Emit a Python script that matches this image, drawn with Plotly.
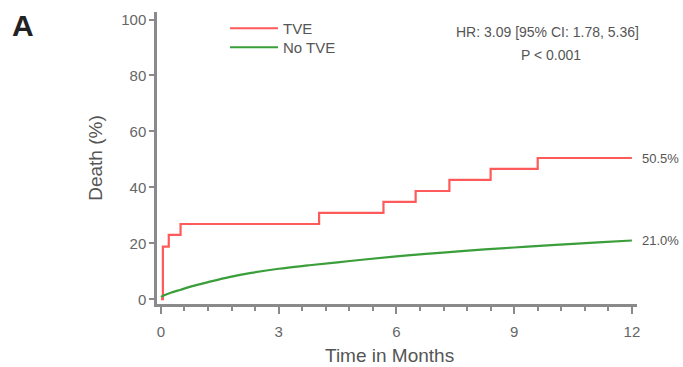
import plotly.graph_objects as go

# Data
red_name = "TVE"
red_t = [0, 0.05, 0.20, 0.50, 4.03, 5.67, 6.49, 7.35, 8.40, 9.60, 12.0]
red_y = [0, 18.8, 23.0, 26.9, 30.9, 34.8, 38.7, 42.7, 46.6, 50.5, 50.5]

green_name = "No TVE"
green_t = [0, 0.1, 0.25, 0.5, 0.8, 1.2, 1.74, 2.3, 3.0, 3.75, 4.5, 5.25, 6.0, 6.75, 7.5,
           8.25, 9.0, 9.75, 10.5, 11.25, 12.0]
green_y = [0.8, 1.5, 2.3, 3.4, 4.7, 6.1, 7.9, 9.4, 10.9, 12.1, 13.2, 14.3, 15.3, 16.2, 17.0,
           17.8, 18.5, 19.2, 19.8, 20.4, 21.0]

x_ticks = [0, 3, 6, 9, 12]
y_ticks = [0, 20, 40, 60, 80, 100]

hr_text = "HR: 3.09 [95% CI: 1.78, 5.36]"
p_text = "P < 0.001"

RED = "#ff5a5a"
GREEN = "#3a9e3a"
AX = "#8a8a8a"
FONT = "Liberation Sans, Arial, sans-serif"

W, H = 683, 367
ML, MR, MT, MB = 157, 46, 12, 63
PW, PH = W - ML - MR, H - MT - MB


def px(x_screen):
    return (x_screen - ML) / PW


def py(y_screen):
    return 1 - (y_screen - MT) / PH


fig = go.Figure()
fig.add_trace(go.Scatter(x=red_t, y=red_y, mode="lines", name=red_name, legend="legend",
                         line=dict(color=RED, width=2.2, shape="hv")))
fig.add_trace(go.Scatter(x=green_t, y=green_y, mode="lines", name=green_name, legend="legend2",
                         line=dict(color=GREEN, width=2.2, shape="spline")))

leg_common = dict(xanchor="left", yanchor="top", bgcolor="rgba(0,0,0,0)",
                  font=dict(size=15, color="#555"), itemwidth=48, borderwidth=0)

fig.update_layout(
    width=W, height=H,
    margin=dict(l=ML, r=MR, t=MT, b=MB),
    paper_bgcolor="white", plot_bgcolor="white",
    font=dict(family=FONT, color="#555"),
    showlegend=True,
    legend=dict(x=px(225), y=py(12), **leg_common),
    legend2=dict(x=px(225), y=py(31), **leg_common),
    xaxis=dict(range=[-0.1, 12.13], tickvals=x_ticks, ticks="outside", ticklen=7,
               tickwidth=2, tickcolor=AX, showline=True, linecolor=AX, linewidth=2.5,
               showgrid=False, zeroline=False, ticklabelstandoff=5,
               tickfont=dict(size=15, color="#666"),
               minor=dict(dtick=0.6, tick0=0, ticks="outside", ticklen=4, tickwidth=2,
                          tickcolor=AX, showgrid=False)),
    yaxis=dict(range=[-1.7, 102.7], tickvals=y_ticks, ticks="outside", ticklen=5,
               tickwidth=2, tickcolor=AX, showline=True, linecolor=AX, linewidth=2.5,
               showgrid=False, zeroline=False,
               tickfont=dict(size=15, color="#666"),
               title=dict(text="Death (%)", font=dict(size=19, color="#555"), standoff=14)),
)

# X axis title
fig.add_annotation(x=px(389), y=py(355), xref="paper", yref="paper", text="Time in Months",
                   showarrow=False, xanchor="center", yanchor="middle",
                   font=dict(size=19, color="#555"))

# End-of-curve labels
fig.add_annotation(x=red_t[-1], y=red_y[-1], text=f"{red_y[-1]:.1f}%", showarrow=False,
                   xanchor="left", xshift=8, font=dict(size=13, color="#555"))
fig.add_annotation(x=green_t[-1], y=green_y[-1], text=f"{green_y[-1]:.1f}%", showarrow=False,
                   xanchor="left", xshift=8, font=dict(size=13, color="#555"))

# Stats text
fig.add_annotation(x=px(547), y=py(32), xref="paper", yref="paper", text=hr_text,
                   showarrow=False, xanchor="center", yanchor="middle",
                   font=dict(size=14, color="#555"))
fig.add_annotation(x=px(551), y=py(55), xref="paper", yref="paper", text=p_text,
                   showarrow=False, xanchor="center", yanchor="middle",
                   font=dict(size=14, color="#555"))

# Panel letter
fig.add_annotation(x=px(23), y=py(26), xref="paper", yref="paper", text="<b>A</b>",
                   showarrow=False, xanchor="center", yanchor="middle",
                   font=dict(size=30, color="#222"))

fig.write_html(
    "out.html",
    config={"displayModeBar": False},
    post_script="document.body.style.margin='0';document.body.style.overflow='hidden';",
)
